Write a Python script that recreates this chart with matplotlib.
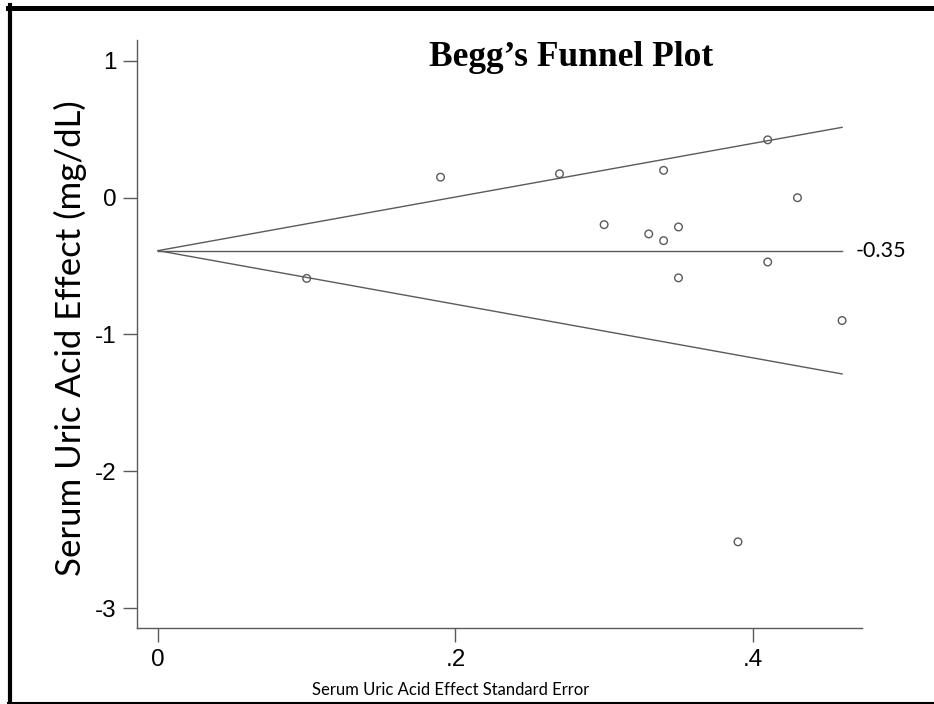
import matplotlib
matplotlib.use("Agg")
import matplotlib.pyplot as plt
from matplotlib.lines import Line2D
import numpy as np

# study standard errors and effects
se = [0.10, 0.19, 0.27, 0.30, 0.33, 0.34, 0.34, 0.35, 0.35, 0.39, 0.41, 0.41, 0.43, 0.46]
effect = [-0.59, 0.15, 0.175, -0.197, -0.265, 0.20, -0.314, -0.214, -0.586, -2.516, 0.423, -0.47, 0.0, -0.898]

pooled = -0.387          # position of the centre line
pooled_label = "-0.35"   # text written next to it
funnel_se = [0.0, 0.46]  # range of the pseudo 95% limits

x_ticks = [0, 0.2, 0.4]
x_ticklabels = ["0", ".2", ".4"]
y_ticks = [1, 0, -1, -2, -3]

GREY = "#5a5a5a"
W, H = 934, 704

fig = plt.figure(figsize=(W / 100, H / 100), dpi=100)
ax = fig.add_axes([137 / W, 1 - 628 / H, (862 - 137) / W, (628 - 40) / H])

fs = np.array(funnel_se)
ax.plot(fs, pooled + 1.96 * fs, color=GREY, lw=1.0)
ax.plot(fs, pooled - 1.96 * fs, color=GREY, lw=1.0)
ax.plot(fs, [pooled, pooled], color=GREY, lw=1.0)
ax.scatter(se, effect, s=30, facecolors="none", edgecolors=GREY, linewidths=1.0, zorder=3)

ax.text(funnel_se[1] + 0.009, pooled, pooled_label, fontsize=15.5, family="Lato",
        va="center", ha="left", color="black")

ax.set_xlim(-0.0141, 0.4734)
ax.set_ylim(-3.146, 1.153)
ax.set_xticks(x_ticks)
ax.set_xticklabels(x_ticklabels)
ax.set_yticks(y_ticks)
ax.set_yticklabels([str(v) for v in y_ticks])

for side in ("top", "right"):
    ax.spines[side].set_visible(False)
for side in ("left", "bottom"):
    ax.spines[side].set_color(GREY)
    ax.spines[side].set_linewidth(1.0)
ax.tick_params(direction="out", length=10, width=1.0, color=GREY, pad=5,
               labelsize=17.5, labelcolor="black")
for lab in ax.get_xticklabels() + ax.get_yticklabels():
    lab.set_family(["Liberation Sans Narrow", "Liberation Sans"])

fig.text(451 / W, 1 - 690 / H, "Serum Uric Acid Effect Standard Error", fontsize=12,
         family="Lato", ha="center", va="center")
fig.text(70 / W, 1 - 338 / H, "Serum Uric Acid Effect (mg/dL)", fontsize=25,
         family="Lato", rotation=90, ha="center", va="center")
fig.text(571 / W, 1 - 57 / H, "Begg\u2019s Funnel Plot", fontsize=25.5,
         family="Liberation Serif", weight="bold", ha="center", va="center")

# black frame around the picture
fig.add_artist(Line2D([10 / W, 10 / W], [1 - 5 / H, 1 - 704 / H], color="black", lw=3.0,
                      transform=fig.transFigure))
fig.add_artist(Line2D([8 / W, 1.0], [1 - 7.5 / H, 1 - 7.5 / H], color="black", lw=3.6,
                      transform=fig.transFigure))
fig.add_artist(Line2D([8 / W, 1.0], [1 - 702.5 / H, 1 - 702.5 / H], color="black", lw=1.5,
                      transform=fig.transFigure))

fig.savefig("out.png", dpi=100)
